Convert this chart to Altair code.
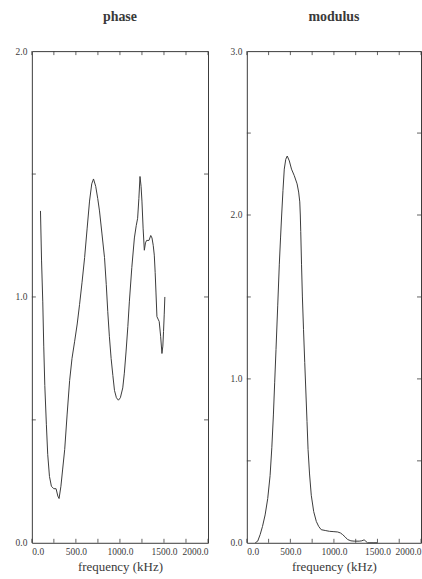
import altair as alt
import pandas as pd

# phase curve (frequency in kHz)
phase_freq = [98, 110, 124, 135, 147, 165, 180, 200, 222, 249, 275, 295, 309, 330, 350, 373,
              400, 429, 456, 486, 515, 542, 570, 599, 628, 655, 680, 700, 725, 748, 768, 795,
              825, 845, 862, 880, 900, 920, 938, 960, 983, 1005, 1032, 1050, 1070, 1090, 1107,
              1135, 1164, 1185, 1201, 1215, 1228, 1240, 1250, 1263, 1277, 1290, 1303, 1330,
              1350, 1364, 1378, 1390, 1400, 1409, 1420, 1433, 1446, 1462, 1477, 1487, 1495,
              1503, 1510]
phase_val = [1.35, 1.15, 0.98, 0.80, 0.64, 0.48, 0.36, 0.27, 0.23, 0.22, 0.22, 0.19, 0.18, 0.23,
             0.30, 0.38, 0.52, 0.66, 0.75, 0.82, 0.89, 0.97, 1.06, 1.16, 1.28, 1.39, 1.46, 1.48,
             1.45, 1.40, 1.35, 1.26, 1.16, 1.05, 0.94, 0.84, 0.75, 0.68, 0.62, 0.59, 0.58, 0.59,
             0.63, 0.69, 0.78, 0.88, 0.98, 1.12, 1.24, 1.29, 1.32, 1.40, 1.49, 1.45, 1.39, 1.28,
             1.19, 1.22, 1.23, 1.23, 1.25, 1.24, 1.21, 1.17, 1.10, 1.02, 0.92, 0.91, 0.90, 0.84,
             0.77, 0.80, 0.86, 0.93, 1.00]

# modulus curve (frequency in kHz)
mod_freq = [97, 125, 153, 180, 210, 240, 267, 287, 305, 320, 335, 355, 373, 387, 400, 415, 430,
            447, 464, 488, 513, 545, 577, 595, 608, 614, 619, 628, 638, 651, 665, 678, 691, 703,
            720, 740, 768, 798, 825, 854, 900, 949, 1000, 1043, 1075, 1100, 1130, 1157, 1195,
            1233, 1290, 1320, 1347, 1365, 1385, 1450, 1500]
mod_val = [0.0, 0.01, 0.05, 0.10, 0.17, 0.27, 0.41, 0.58, 0.78, 0.98, 1.18, 1.45, 1.70, 1.86,
           2.00, 2.15, 2.28, 2.34, 2.36, 2.33, 2.28, 2.24, 2.19, 2.14, 2.08, 2.00, 1.90, 1.70,
           1.50, 1.30, 1.10, 0.92, 0.74, 0.57, 0.42, 0.29, 0.19, 0.13, 0.10, 0.08, 0.075, 0.07,
           0.068, 0.066, 0.06, 0.05, 0.035, 0.02, 0.012, 0.01, 0.01, 0.012, 0.018, 0.01, 0.0,
           0.0, 0.0]

x_label_values = [0, 500, 1000, 1500, 2000]
x_tick_values = [0, 250, 500, 750, 1000, 1250, 1500, 1750, 2000]
phase_label_values = [0.0, 1.0, 2.0]
phase_tick_values = [0.5, 1.0, 1.5]
mod_label_values = [0.0, 1.0, 2.0, 3.0]
mod_tick_values = [0.5, 1.0, 1.5, 2.0, 2.5]

SERIF = "Liberation Serif"
INK = "#3a3a3a"
TICK = 4


def panel(title, freq, val, y_max, y_labels, y_ticks, w, h):
    df = pd.DataFrame({"f": freq, "v": val})
    xs = alt.Scale(domain=[0, 2000], nice=False, zero=False)
    ys = alt.Scale(domain=[0, y_max], nice=False, zero=False)
    x_axis = alt.Axis(values=x_label_values, format=".1f", ticks=False,
                      domain=False, grid=False, labelPadding=4,
                      labelFont=SERIF, labelFontSize=9.5, labelColor=INK,
                      titleFont=SERIF, titleFontSize=13, titleFontWeight="normal",
                      titleColor=INK, titlePadding=4)
    y_axis = alt.Axis(values=y_labels, format=".1f", ticks=False, domain=False,
                      grid=False, labelPadding=5, labelFont=SERIF,
                      labelFontSize=9.5, labelColor=INK)

    def xenc():
        return alt.X("f:Q", scale=xs, title="frequency (kHz)", axis=x_axis)

    def yenc():
        return alt.Y("v:Q", scale=ys, title=None, axis=y_axis)

    line = alt.Chart(df).mark_line(color=INK, strokeWidth=1).encode(x=xenc(), y=yenc())

    # small inward tick marks on all four sides of the frame
    xt = pd.DataFrame({"f": x_tick_values})
    yt = pd.DataFrame({"v": y_ticks})
    rule = dict(color=INK, strokeWidth=0.8)
    bottom = alt.Chart(xt).mark_rule(**rule).encode(
        x=xenc(), y=alt.value(h), y2=alt.value(h - TICK))
    top = alt.Chart(xt).mark_rule(**rule).encode(
        x=xenc(), y=alt.value(0), y2=alt.value(TICK))
    left = alt.Chart(yt).mark_rule(**rule).encode(
        y=yenc(), x=alt.value(0), x2=alt.value(TICK))
    right = alt.Chart(yt).mark_rule(**rule).encode(
        y=yenc(), x=alt.value(w), x2=alt.value(w - TICK))

    return alt.layer(line, bottom, top, left, right).properties(
        width=w, height=h,
        title=alt.TitleParams(title, font=SERIF, fontSize=14, fontWeight="bold",
                              color=INK, offset=22),
    )


phase = panel("phase", phase_freq, phase_val, 2.0, phase_label_values,
              phase_tick_values, 177, 494)
modulus = panel("modulus", mod_freq, mod_val, 3.0, mod_label_values,
                mod_tick_values, 175, 494)

chart = alt.hconcat(phase, modulus, spacing=20).properties(
    padding={"left": 14, "top": 8, "right": 0, "bottom": 0},
    background="white",
).configure_view(stroke=INK, strokeWidth=1)

chart.save("out.html", embed_options={"renderer": "svg", "actions": False})
